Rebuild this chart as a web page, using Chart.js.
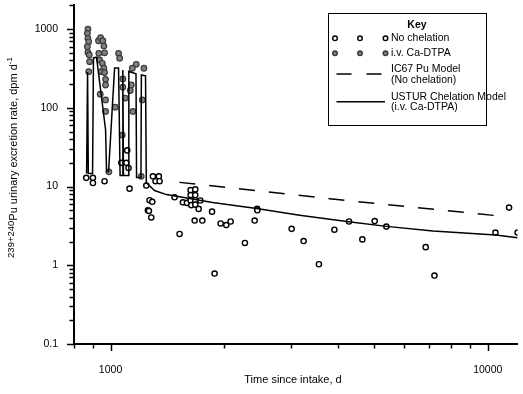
<!DOCTYPE html>
<html>
<head>
<meta charset="utf-8">
<script src="https://cdn.jsdelivr.net/npm/chart.js@4"></script>
<style>
  html, body { margin: 0; padding: 0; background: #fff; }
  #wrap { width: 523px; height: 394px; }
</style>
</head>
<body>
<div id="wrap"><canvas id="c" width="523" height="394"></canvas></div>
<script>
const FONT = '"Liberation Sans", Arial, sans-serif';

// Urinary excretion, no chelation (days, dpm/d)
const noChelDays = [862, 898, 898, 964, 1068, 1101, 1116, 1107, 1123, 1244, 1295, 1343, 1316, 1349,
  1269, 1290, 1256, 1264, 1282, 1478, 1524, 1555, 1594, 1630, 1677, 1630, 1677, 1630, 1677, 1637, 1677,
  1730, 1712, 1671, 1751, 1858, 1887, 1958, 2027, 2081, 2271, 2410, 2447, 2450, 3021, 3250, 3568, 3921,
  4288, 4652, 5015, 5386, 6846, 7223, 10481, 11390, 12000];
const noChelRate = [12.9, 12.9, 11.1, 11.7, 20, 20, 17.2, 28.8, 9.4, 10.3, 13.5, 13.5, 11.7, 11.7,
  6.7, 6.4, 5.0, 4.9, 4.05, 7.3, 2.5, 6.3, 6.2, 9.0, 9.2, 7.8, 7.8, 6.7, 6.7, 5.8, 5.9,
  6.65, 5.2, 3.7, 3.7, 4.8, 0.785, 3.4, 3.24, 3.6, 1.92, 3.7, 5.2, 5.0, 2.9, 2.03, 1.03, 2.83,
  3.6, 2.13, 3.64, 3.1, 1.7, 0.74, 2.6, 5.4, 2.6];

// Urinary excretion, i.v. Ca-DTPA
const dtpaDays = [871, 868, 871, 875, 868, 871, 878, 880, 875, 929, 941, 954, 960, 964, 931, 935, 951,
  960, 945, 964, 970, 970, 939, 970, 970, 990, 1029, 1050, 1057, 1078, 1078, 1094, 1074, 1142, 1170,
  1135, 1128, 1146, 1226, 1214, 1206];
const dtpaRate = [1000, 883, 763, 690, 597, 505, 469, 386, 288, 711, 776, 711, 609, 500, 492, 405, 368,
  318, 288, 280, 230, 195, 149, 126, 90, 15.4, 102, 492, 426, 233, 183, 133, 45, 318, 357,
  195, 166, 90, 318, 126, 13.5];

// IC67 Pu model (no chelation)
const ic67Days = [1522, 3810, 11230];
const ic67Rate = [11.3, 7.0, 4.14];

// USTUR chelation model (i.v. Ca-DTPA)
const usturDays = [864, 869, 873, 896, 901, 918, 970, 976, 988, 1025, 1050, 1060, 1076, 1078, 1082,
  1116, 1118, 1168, 1172, 1204, 1207, 1238, 1244, 1308, 1407, 1524, 1864, 2440, 3172, 4280, 5390,
  7160, 10500, 12000];
const usturRate = [14.6, 286, 14.6, 14.6, 430, 440, 52.7, 15.5, 15.5, 321, 321, 13.8, 13.8, 303, 13.8,
  13.8, 290, 270, 13.0, 13.0, 262, 255, 11.2, 8.9, 7.9, 7.4, 6.27, 5.27, 4.33, 3.57, 3.12,
  2.72, 2.42, 2.24];

const xTicks = [800, 900, 1000, 2000, 3000, 4000, 5000, 6000, 7000, 8000, 9000, 10000];
const xLabels = [1000, 10000];
const yTicks = [0.1, 0.2, 0.3, 0.4, 0.5, 0.6, 0.7, 0.8, 0.9, 1, 2, 3, 4, 5, 6, 7, 8, 9,
  10, 20, 30, 40, 50, 60, 70, 80, 90, 100, 200, 300, 400, 500, 600, 700, 800, 900, 1000, 2000];
const yLabels = [0.1, 1, 10, 100, 1000];

const pts = (xs, ys) => xs.map((x, i) => ({ x, y: ys[i] }));

const decor = {
  id: 'decor',
  afterDraw(chart) {
    const ctx = chart.ctx;
    const xs = chart.scales.x, ys = chart.scales.y;
    ctx.save();
    ctx.strokeStyle = '#000';
    ctx.lineWidth = 1.5;
    xTicks.forEach(v => {
      const p = Math.round(xs.getPixelForValue(v)) + 0.5;
      const len = xLabels.includes(v) ? 7 : 4.5;
      ctx.beginPath(); ctx.moveTo(p, xs.top); ctx.lineTo(p, xs.top + len); ctx.stroke();
    });
    yTicks.forEach(v => {
      const p = Math.round(ys.getPixelForValue(v)) + 0.5;
      const len = yLabels.includes(v) ? 7 : 4.5;
      ctx.beginPath(); ctx.moveTo(ys.right, p); ctx.lineTo(ys.right - len, p); ctx.stroke();
    });

    // axis titles
    ctx.fillStyle = '#000';
    ctx.font = '11px ' + FONT;
    ctx.textAlign = 'center';
    ctx.textBaseline = 'middle';
    ctx.fillText('Time since intake, d', 293, 380);

    const parts = [
      { t: '239+240', size: 9.5, rise: 2.5 },
      { t: 'Pu urinary excretion rate, dpm d', size: 11, rise: 0 },
      { t: '-1', size: 8, rise: 4.5 }
    ];
    let total = 0;
    parts.forEach(p => { ctx.font = p.size + 'px ' + FONT; p.w = ctx.measureText(p.t).width; total += p.w; });
    ctx.translate(12.5, 157.5);
    ctx.rotate(-Math.PI / 2);
    ctx.textAlign = 'left';
    ctx.textBaseline = 'alphabetic';
    let cx = -total / 2;
    parts.forEach(p => {
      ctx.font = p.size + 'px ' + FONT;
      ctx.fillText(p.t, cx, 4 - p.rise);
      cx += p.w;
    });
    ctx.setTransform(1, 0, 0, 1, 0, 0);

    // key
    ctx.lineWidth = 1;
    ctx.strokeRect(328.5, 13.5, 158, 112);
    ctx.font = 'bold 10.5px ' + FONT;
    ctx.textAlign = 'center';
    ctx.textBaseline = 'middle';
    ctx.fillText('Key', 417, 25.5);
    ctx.font = '10.5px ' + FONT;
    ctx.textAlign = 'left';
    const rows = [['No chelation', 38.3], ['i.v. Ca-DTPA', 53.3], ['IC67 Pu Model', 69], ['(No chelation)', 80],
      ['USTUR Chelation Model', 96.7], ['(i.v. Ca-DTPA)', 107.3]];
    rows.forEach(r => ctx.fillText(r[0], 391, r[1]));
    [335, 360, 385.5].forEach(mx => {
      ctx.lineWidth = 1.4;
      ctx.beginPath(); ctx.arc(mx, 38.3, 2.3, 0, Math.PI * 2);
      ctx.fillStyle = '#fff'; ctx.fill(); ctx.strokeStyle = '#000'; ctx.stroke();
      ctx.beginPath(); ctx.arc(mx, 53.3, 2.3, 0, Math.PI * 2);
      ctx.fillStyle = '#808080'; ctx.fill(); ctx.strokeStyle = '#3a3a3a'; ctx.stroke();
    });
    ctx.strokeStyle = '#000';
    ctx.lineWidth = 1.5;
    ctx.beginPath();
    ctx.moveTo(336.5, 74); ctx.lineTo(351.5, 74);
    ctx.moveTo(366.5, 74); ctx.lineTo(381.5, 74);
    ctx.moveTo(336.5, 101.7); ctx.lineTo(385, 101.7);
    ctx.stroke();
    ctx.restore();
  }
};

new Chart(document.getElementById('c'), {
  type: 'scatter',
  data: {
    datasets: [
      {
        type: 'line', label: 'IC67 Pu Model', data: pts(ic67Days, ic67Rate),
        borderColor: '#000', borderWidth: 1.5, borderDash: [16, 14], pointRadius: 0, tension: 0, order: 0
      },
      {
        type: 'line', label: 'USTUR Chelation Model', data: pts(usturDays, usturRate),
        borderColor: '#000', borderWidth: 1.5, pointRadius: 0, tension: 0, order: 0
      },
      {
        label: 'No chelation', data: pts(noChelDays, noChelRate),
        pointRadius: 2.6, pointBorderWidth: 1.4, pointBackgroundColor: '#fff', pointBorderColor: '#000', order: 1
      },
      {
        label: 'i.v. Ca-DTPA', data: pts(dtpaDays, dtpaRate),
        pointRadius: 2.8, pointBorderWidth: 1.2, pointBackgroundColor: '#808080', pointBorderColor: '#3a3a3a', order: 1
      }
    ]
  },
  options: {
    responsive: false,
    animation: false,
    devicePixelRatio: 1,
    layout: { padding: { top: 5, right: 5, left: 0, bottom: 0 } },
    plugins: { legend: { display: false }, tooltip: { enabled: false } },
    scales: {
      x: {
        type: 'logarithmic', min: 800, max: 12000,
        afterBuildTicks: s => { s.ticks = xTicks.map(v => ({ value: v })); },
        afterFit: s => { s.height = 50; s.paddingLeft = 0; s.paddingRight = 0; },
        grid: { display: false },
        border: { display: true, color: '#000', width: 2 },
        ticks: {
          autoSkip: false, maxRotation: 0, padding: 12, color: '#000',
          font: { family: FONT, size: 10.5 },
          callback: v => xLabels.includes(v) ? String(v) : ''
        }
      },
      y: {
        type: 'logarithmic', min: 0.1, max: 2000,
        afterBuildTicks: s => { s.ticks = yTicks.map(v => ({ value: v })); },
        afterFit: s => { s.width = 74; s.paddingTop = 0; s.paddingBottom = 0; },
        grid: { display: false },
        border: { display: true, color: '#000', width: 2 },
        ticks: {
          autoSkip: false, padding: 8, color: '#000',
          font: { family: FONT, size: 10.5 },
          callback: v => yLabels.includes(v) ? String(v) : ''
        }
      }
    }
  },
  plugins: [decor]
});
</script>
</body>
</html>
